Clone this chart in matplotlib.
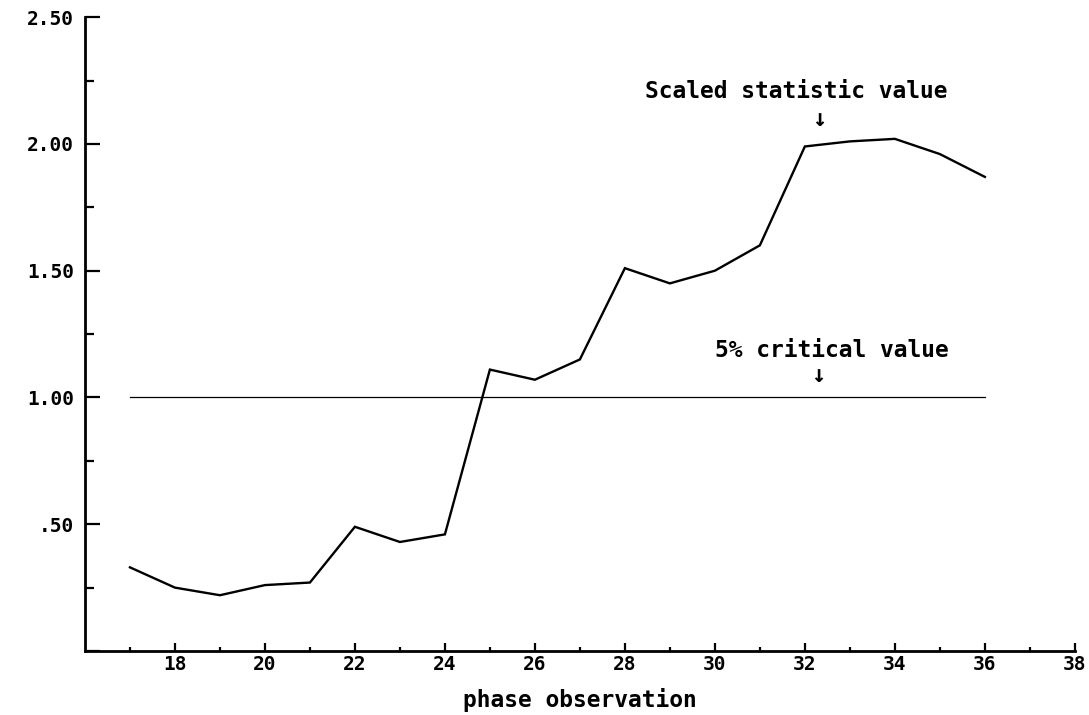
import matplotlib
matplotlib.use("Agg")
import matplotlib.pyplot as plt
from matplotlib.ticker import FixedLocator, FuncFormatter

# Phase observations and the scaled test statistic at each one
phase = [17, 18, 19, 20, 21, 22, 23, 24, 25, 26,
         27, 28, 29, 30, 31, 32, 33, 34, 35, 36]
scaled_stat = [0.33, 0.25, 0.22, 0.26, 0.27, 0.49, 0.43, 0.46, 1.11, 1.07,
               1.15, 1.51, 1.45, 1.50, 1.60, 1.99, 2.01, 2.02, 1.96, 1.87]

# 5% critical value (flat across the observed phases)
crit_x = [17, 36]
crit_y = [1.00, 1.00]

x_major = [18, 20, 22, 24, 26, 28, 30, 32, 34, 36, 38]
x_minor = [17, 19, 21, 23, 25, 27, 29, 31, 33, 35, 37]
y_major = [0.0, 0.5, 1.0, 1.5, 2.0, 2.5]
y_minor = [0.25, 0.75, 1.25, 1.75, 2.25]

FONT = "DejaVu Sans Mono"

fig = plt.figure(figsize=(10.89, 7.15), dpi=100)
ax = fig.add_axes([0.078, 0.0895, 0.909, 0.8865])

ax.plot(phase, scaled_stat, color="black", lw=1.7, solid_joinstyle="miter")
ax.plot(crit_x, crit_y, color="black", lw=0.9)

ax.set_xlim(16, 38)
ax.set_ylim(0, 2.5)

for side in ("top", "right"):
    ax.spines[side].set_visible(False)
for side in ("left", "bottom"):
    ax.spines[side].set_linewidth(2.0)

ax.xaxis.set_major_locator(FixedLocator(x_major))
ax.xaxis.set_minor_locator(FixedLocator(x_minor))
ax.yaxis.set_major_locator(FixedLocator(y_major))
ax.yaxis.set_minor_locator(FixedLocator(y_minor))

ax.xaxis.set_major_formatter(FuncFormatter(lambda v, p: f"{int(v)}"))


def ylab(v, pos):
    if v == 0:
        return ""
    s = f"{v:.2f}"
    return s[1:] if s.startswith("0") else s


ax.yaxis.set_major_formatter(FuncFormatter(ylab))

ax.tick_params(axis="x", which="major", direction="in", length=6, width=1.6,
               pad=3, labelsize=14)
ax.tick_params(axis="x", which="minor", direction="in", length=3, width=1.6)
ax.tick_params(axis="y", which="major", direction="in", length=11, width=1.6,
               pad=8, labelsize=14)
ax.tick_params(axis="y", which="minor", direction="in", length=6.5, width=1.6)

for lab in ax.get_xticklabels() + ax.get_yticklabels():
    lab.set_fontfamily(FONT)
    lab.set_fontweight("bold")

ax.set_xlabel("phase observation", fontfamily=FONT, fontweight="bold",
              fontsize=16.5, labelpad=10)

ax.text(31.8, 2.205, "Scaled statistic value", ha="center", va="center",
        fontfamily=FONT, fontweight="bold", fontsize=16.5)
ax.text(32.33, 2.10, "\u2193", ha="center", va="center",
        fontfamily=FONT, fontweight="bold", fontsize=17)

ax.text(32.6, 1.187, "5% critical value", ha="center", va="center",
        fontfamily=FONT, fontweight="bold", fontsize=16.5)
ax.text(32.29, 1.09, "\u2193", ha="center", va="center",
        fontfamily=FONT, fontweight="bold", fontsize=17)

fig.savefig("out.png", dpi=100, facecolor="white")
